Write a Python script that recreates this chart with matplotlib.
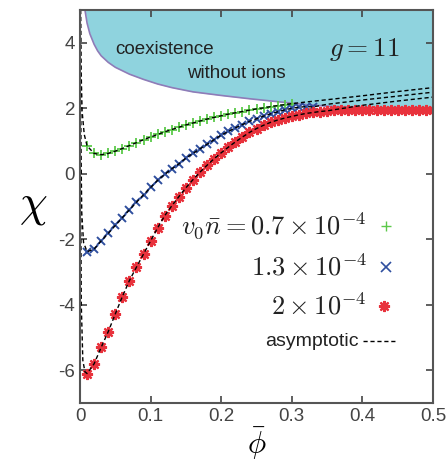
import matplotlib
matplotlib.use("Agg")
import matplotlib.pyplot as plt
import numpy as np

plt.rcParams['mathtext.fontset'] = 'cm'
plt.rcParams['font.family'] = ['Liberation Sans', 'DejaVu Sans']

# coexistence boundary (without ions), g = 11
phi_b = [0.004, 0.007, 0.01, 0.014, 0.02, 0.025, 0.03, 0.04, 0.05, 0.07, 0.09,
         0.11, 0.13, 0.16, 0.2, 0.24, 0.28, 0.32, 0.36, 0.4, 0.45, 0.5]
chi_b = [5.6, 5.0, 4.6, 4.27, 3.95, 3.75, 3.6, 3.4, 3.25, 3.04, 2.88,
         2.74, 2.63, 2.5, 2.39, 2.29, 2.2, 2.11, 2.05, 2.02, 2.0, 1.99]

# numerical data points
phi_green = [0.01, 0.02, 0.03, 0.04, 0.05, 0.06, 0.07, 0.08, 0.09, 0.10,
             0.11, 0.12, 0.13, 0.14, 0.15, 0.16, 0.17, 0.18, 0.19, 0.20,
             0.21, 0.22, 0.23, 0.24, 0.25, 0.26, 0.27, 0.28, 0.29, 0.30]
chi_green = [0.85, 0.62, 0.58, 0.62, 0.69, 0.77, 0.86, 0.95, 1.04, 1.12,
             1.20, 1.28, 1.35, 1.42, 1.49, 1.55, 1.61, 1.67, 1.72, 1.77,
             1.82, 1.86, 1.90, 1.94, 1.98, 2.01, 2.05, 2.08, 2.11, 2.14]

phi_blue = [0.01, 0.02, 0.03, 0.04, 0.05, 0.06, 0.07, 0.08, 0.09, 0.10,
            0.11, 0.12, 0.13, 0.14, 0.15, 0.16, 0.17, 0.18, 0.19, 0.20,
            0.21, 0.22, 0.23, 0.24, 0.25, 0.26, 0.27, 0.28, 0.29, 0.30,
            0.31, 0.32, 0.33]
chi_blue = [-2.38, -2.3, -2.05, -1.82, -1.58, -1.34, -1.1, -0.87, -0.64, -0.42,
            -0.2, -0.02, 0.15, 0.3, 0.48, 0.62, 0.76, 0.9, 1.04, 1.18,
            1.29, 1.4, 1.5, 1.6, 1.68, 1.76, 1.83, 1.89, 1.95, 2.0,
            2.03, 2.05, 2.04]

phi_red = [0.01, 0.02, 0.03, 0.04, 0.05, 0.06, 0.07, 0.08, 0.09, 0.10,
           0.11, 0.12, 0.13, 0.14, 0.15, 0.16, 0.17, 0.18, 0.19, 0.20,
           0.21, 0.22, 0.23, 0.24, 0.25, 0.26, 0.27, 0.28, 0.29, 0.30,
           0.31, 0.32, 0.33, 0.34, 0.35, 0.36, 0.37, 0.38, 0.39, 0.40,
           0.41, 0.42, 0.43, 0.44, 0.45, 0.46, 0.47, 0.48, 0.49, 0.50]
chi_red = [-6.1, -5.8, -5.3, -4.82, -4.28, -3.75, -3.26, -2.85, -2.45, -2.05,
           -1.65, -1.28, -0.98, -0.7, -0.43, -0.18, 0.05, 0.26, 0.46, 0.64,
           0.81, 0.97, 1.12, 1.26, 1.38, 1.48, 1.57, 1.64, 1.70, 1.75,
           1.80, 1.84, 1.87, 1.90, 1.92, 1.94, 1.95, 1.95, 1.95, 1.95,
           1.95, 1.95, 1.95, 1.95, 1.95, 1.95, 1.95, 1.95, 1.95, 1.95]

# asymptotic curves: steep part near phi=0 and continuation past the boundary
green_lo_phi = [0.0008, 0.0015, 0.003, 0.006]
green_lo_chi = [5.0, 3.2, 1.9, 1.2]
green_hi_phi = [0.32, 0.35, 0.40, 0.45, 0.50]
green_hi_chi = [2.19, 2.26, 2.38, 2.51, 2.63]

blue_lo_phi = [0.0006, 0.0012, 0.0025, 0.005]
blue_lo_chi = [5.0, 1.0, -1.2, -2.1]
blue_hi_phi = [0.35, 0.40, 0.45, 0.50]
blue_hi_chi = [2.12, 2.25, 2.37, 2.49]

red_lo_phi = [0.0004, 0.0008, 0.0018, 0.004, 0.007]
red_lo_chi = [5.0, 0.0, -4.0, -5.7, -6.05]
red_hi_phi = [0.40, 0.45, 0.50]
red_hi_chi = [2.09, 2.22, 2.34]

fig = plt.figure(figsize=(4.48, 4.62), dpi=100)
ax = fig.add_axes([0.1786, 0.1277, 0.7879, 0.8507])

ax.fill_between(phi_b, chi_b, 6, color='#8fd3de', zorder=1, lw=0)
ax.plot(phi_b, chi_b, color='#8f7cb8', lw=1.2, zorder=2)

ax.plot(phi_green, chi_green, ls='none', marker='+', ms=7, mew=1.3,
        color='#5cc94a', zorder=3)
ax.plot(phi_blue, chi_blue, ls='none', marker='x', ms=6, mew=1.4,
        color='#2f4f9f', zorder=4)
ax.plot(phi_red, chi_red, ls='none', marker=(8, 2, 0), ms=8, mew=1.6,
        color='#e8323c', zorder=5)

dash = dict(color='black', lw=1.0, ls=(0, (3, 2)), zorder=6)
cut_g = 30
cut_b = 33
cut_r = 35
ax.plot(green_lo_phi + phi_green[:cut_g] + green_hi_phi,
        green_lo_chi + chi_green[:cut_g] + green_hi_chi, **dash)
ax.plot(blue_lo_phi + phi_blue[:cut_b] + blue_hi_phi,
        blue_lo_chi + chi_blue[:cut_b] + blue_hi_chi, **dash)
ax.plot(red_lo_phi + phi_red[:cut_r] + red_hi_phi,
        red_lo_chi + chi_red[:cut_r] + red_hi_chi, **dash)

# annotations
ax.text(0.05, 3.8, 'coexistence', fontsize=13.5, color='#222222', va='center')
ax.text(0.151, 3.05, 'without ions', fontsize=13.5, color='#222222', va='center')
ax.text(0.353, 3.8, r'$g = 11$', fontsize=19.5, color='#222222', va='center')

# legend built as text
leg_labels = [r'$v_0\bar{n} = 0.7\times10^{-4}$', r'$1.3\times10^{-4}$',
              r'$2\times10^{-4}$']
leg_y = [-1.6, -2.85, -4.03]
for lab, yy in zip(leg_labels, leg_y):
    ax.text(0.406, yy, lab, fontsize=19, ha='right', va='center',
            color='#222222')
ax.plot([0.434], [leg_y[0]], marker='+', ms=7, mew=1.0, color='#5cc94a')
ax.plot([0.433], [leg_y[1]], marker='x', ms=7, mew=1.2, color='#2f4f9f')
ax.plot([0.430], [leg_y[2]], marker=(8, 2, 0), ms=8, mew=1.6, color='#e8323c')
ax.text(0.394, -5.12, 'asymptotic', fontsize=14, ha='right', va='center',
        color='#222222')
ax.plot([0.401, 0.449], [-5.12, -5.12], color='black', lw=1.0, ls=(0, (3, 2)))

ax.set_xlim(0, 0.5)
ax.set_ylim(-7, 5)
ax.set_xticks([0, 0.1, 0.2, 0.3, 0.4, 0.5])
ax.set_xticklabels(['0', '0.1', '0.2', '0.3', '0.4', '0.5'])
ax.set_yticks([-6, -4, -2, 0, 2, 4])
ax.set_yticklabels(['-6', '-4', '-2', '0', '2', '4'])
ax.tick_params(direction='in', top=True, right=True, labelsize=13.5,
               length=5, width=1.2, colors='#444444')
for s in ax.spines.values():
    s.set_linewidth(1.5)
    s.set_color('#555555')
    s.set_zorder(10)

ax.set_xlabel(r'$\bar{\phi}$', fontsize=22, labelpad=0)
ax.set_ylabel(r'$\chi$', fontsize=32, rotation=0, labelpad=18, va='center')

fig.savefig('out.png', dpi=100)
